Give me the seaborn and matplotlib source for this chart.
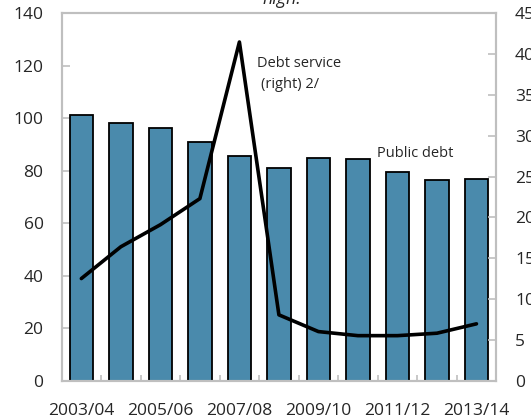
import numpy as np
import pandas as pd
import matplotlib
matplotlib.use("Agg")
import matplotlib.pyplot as plt
from matplotlib.ticker import FixedLocator
import seaborn as sns

years = ["2003/04", "2004/05", "2005/06", "2006/07", "2007/08", "2008/09",
         "2009/10", "2010/11", "2011/12", "2012/13", "2013/14"]
public_debt = [101.1, 98.4, 96.3, 91.0, 85.8, 81.0, 85.0, 84.4, 79.7, 76.4, 77.0]
debt_service = [12.5, 16.4, 19.1, 22.3, 41.5, 8.05, 6.0, 5.5, 5.5, 5.8, 6.95]
left_ticks = [0, 20, 40, 60, 80, 100, 120, 140]
right_ticks = [0, 5, 10, 15, 20, 25, 30, 35, 40, 45]

df = pd.DataFrame({"year": years, "debt": public_debt, "service": debt_service})
df["pos"] = np.arange(len(df))

sns.set_style("white")
plt.rcParams["font.family"] = ["Open Sans", "DejaVu Sans"]
grey = "#bfbfbf"

fig = plt.figure(figsize=(5.31, 4.2), dpi=100)
ax = fig.add_axes([0.116, 0.094, 0.8185, 0.874])

sns.barplot(data=df, x="year", y="debt", color="#4a8aac", saturation=1,
            width=0.59, edgecolor="black", linewidth=1.3, ax=ax)
ax.set_xlim(-0.5, len(df) - 0.5)
ax.set_ylim(0, 140)
ax.set_yticks(left_ticks)
ax.set_xlabel("")
ax.set_ylabel("")

ax2 = ax.twinx()
sns.lineplot(data=df, x="pos", y="service", color="black", linewidth=2.6, ax=ax2)
ax2.set_ylim(0, 45)
ax2.set_yticks(right_ticks)
ax2.set_ylabel("")
ax2.set_xlim(-0.5, len(df) - 0.5)

ax.set_xticks(df["pos"][::2])
ax.set_xticklabels(df["year"][::2])
ax.xaxis.set_minor_locator(FixedLocator(np.arange(0.5, len(df) - 1, 1)))

for a in (ax, ax2):
    for s in a.spines.values():
        s.set_color(grey)
        s.set_linewidth(1.5)
ax.tick_params(axis="y", direction="in", length=5.5, width=1.2, color=grey,
               labelsize=12.5, pad=13, left=True)
ax.tick_params(axis="x", which="major", length=0, labelsize=12.5, pad=16)
ax.tick_params(axis="x", which="minor", direction="in", length=4, width=1.2,
               color=grey, bottom=True)
ax2.tick_params(axis="y", direction="in", length=5.5, width=1.2, color=grey,
                labelsize=12.5, pad=13.5, right=True)

ax2.text(4.457, 38.4, "Debt service", fontsize=10.5, ha="left", va="baseline")
ax2.text(4.54, 35.8, "(right) 2/", fontsize=10.5, ha="left", va="baseline")
ax.text(7.48, 85.4, "Public debt", fontsize=10.5, ha="left", va="baseline")

fig.text(0.53, 0.99, "high.", fontsize=12.8, style="italic",
         ha="center", va="baseline")

fig.savefig("out.png", dpi=100)
